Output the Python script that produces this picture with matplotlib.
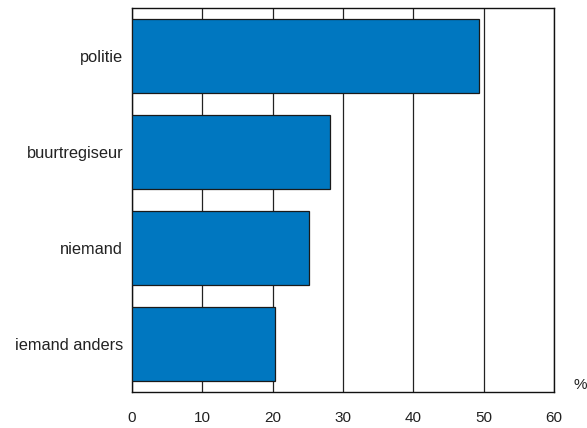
import matplotlib
matplotlib.use("Agg")
import matplotlib.pyplot as plt

categories = ["politie", "buurtregiseur", "niemand", "iemand anders"]
values = [49.3, 28.1, 25.1, 20.3]
xticks = [0, 10, 20, 30, 40, 50, 60]

plt.rcParams["font.family"] = ["Liberation Sans", "DejaVu Sans"]

fig = plt.figure(figsize=(5.87, 4.28), dpi=100)
ax = fig.add_axes([132 / 587, 1 - 392 / 428, 422 / 587, 384 / 428])

pos = list(range(len(categories)))[::-1]
ax.barh(pos, values, height=0.77, color="#0077c0", edgecolor="#1a1a1a",
        linewidth=0.9, zorder=3)

ax.set_xlim(0, 60)
ax.set_ylim(-0.5, 3.5)
ax.set_xticks(xticks)
ax.set_xticklabels([str(t) for t in xticks], fontsize=11, color="#222222")
ax.set_yticks(pos)
ax.set_yticklabels(categories, fontsize=11.8, color="#222222")
ax.tick_params(axis="both", length=0)
ax.tick_params(axis="x", pad=14)
ax.tick_params(axis="y", pad=6.3)
ax.xaxis.grid(True, color="#222222", linewidth=0.9, zorder=0)
for s in ax.spines.values():
    s.set_linewidth(1.0)
    s.set_color("#111111")

fig.text(580 / 587, 1 - 385 / 428, "%", fontsize=11, ha="center", va="center",
         color="#222222")

fig.savefig("out.png", dpi=100)
